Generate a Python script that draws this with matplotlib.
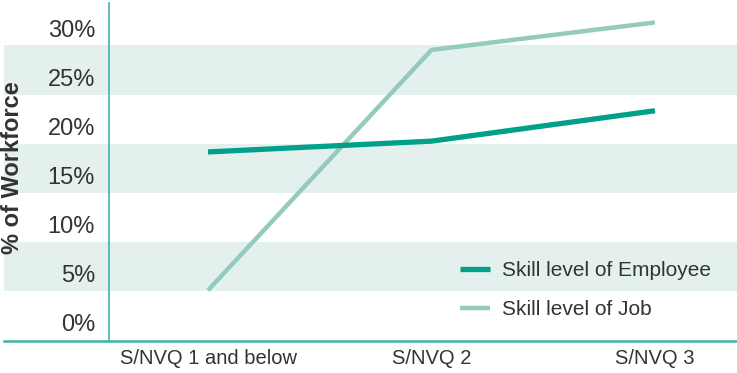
"""Skill level of employees vs skill level required by jobs."""
import matplotlib

matplotlib.use("Agg")
import matplotlib.pyplot as plt

plt.rcParams["font.family"] = ["Liberation Sans", "DejaVu Sans"]

TEXT = "#333333"
TEAL = "#00a08a"
PALE_TEAL = "#95cabe"
BAND = "#e4f0ee"
AXIS = "#3fb3a6"

levels = ["S/NVQ 1 and below", "S/NVQ 2", "S/NVQ 3"]
employee = [17.4, 18.5, 21.6]
job = [3.3, 27.8, 30.6]
y_ticks = [0, 5, 10, 15, 20, 25, 30]
bands = [(3.25, 8.25), (13.25, 18.25), (23.25, 28.25)]

fig = plt.figure(figsize=(7.37, 3.73), dpi=100)
fig.set_facecolor("white")
ax = fig.add_axes([109 / 737, 32 / 373, 628 / 737, 338 / 373])

x = list(range(len(levels)))
ax.set_xlim(-0.443, 2.367)
ax.set_ylim(-1.87, 32.58)

# shaded rows run out under the tick labels, to the left edge of the figure
for lo, hi in bands:
    ax.axhspan(lo, hi, xmin=-105 / 628, xmax=1, color=BAND, lw=0,
               clip_on=False, zorder=0)

ax.plot(x, employee, color=TEAL, lw=3.8, solid_capstyle="butt",
        label="Skill level of Employee", zorder=3)
ax.plot(x, job, color=PALE_TEAL, lw=3.2, solid_capstyle="butt",
        label="Skill level of Job", zorder=2)

for side in ("top", "right", "bottom"):
    ax.spines[side].set_visible(False)
ax.spines["left"].set_color(AXIS)
ax.spines["left"].set_linewidth(1.2)
# bottom rule reaches past the y axis
ax.plot([-105 / 628, 1], [0, 0], transform=ax.transAxes, color=AXIS,
        lw=1.8, clip_on=False, zorder=4)

ax.set_yticks(y_ticks)
ax.set_yticklabels([f"{v}%" for v in y_ticks])
ax.set_xticks(x)
ax.set_xticklabels(levels)
ax.tick_params(axis="y", length=0, pad=10, labelsize=17, labelcolor=TEXT)
ax.tick_params(axis="x", length=0, pad=6, labelsize=14.5, labelcolor=TEXT)

ax.set_ylabel("% of Workforce", fontsize=17, fontweight="bold", color=TEXT)
ax.yaxis.set_label_coords(-85 / 628, 0.512)

ax.legend(loc="upper left", bbox_to_anchor=(460 / 737, 1 - 261 / 373),
          bbox_transform=fig.transFigure, frameon=False, fontsize=15,
          labelcolor=TEXT, handlelength=1.45, handletextpad=0.55,
          labelspacing=0.95, borderpad=0, borderaxespad=0)

fig.savefig("out.png", dpi=100, facecolor="white")
